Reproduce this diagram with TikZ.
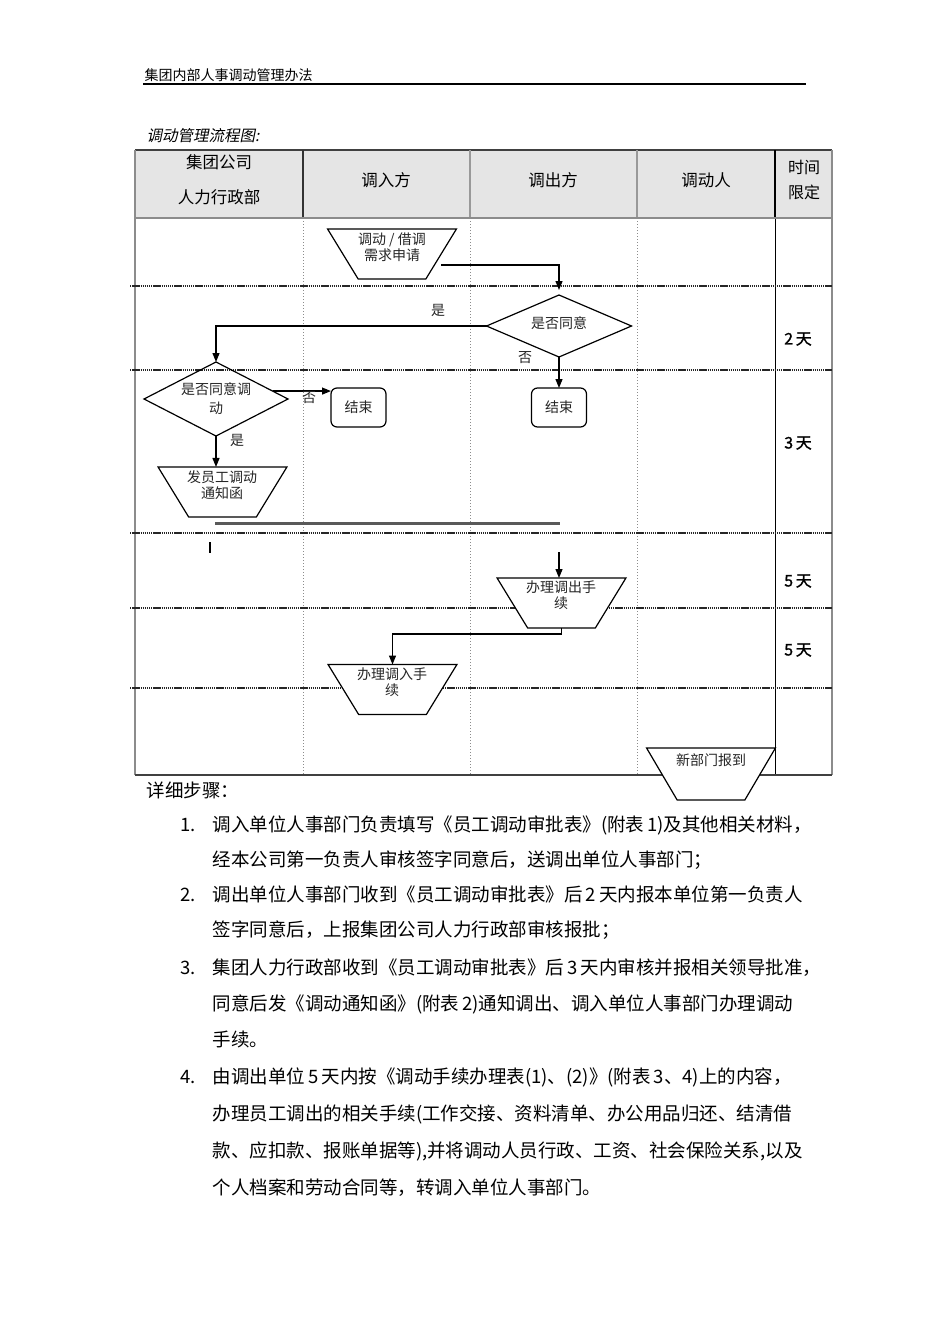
\documentclass[tikz,border=0pt]{standalone}
\usepackage{fontspec}
\setmainfont{Noto Sans CJK SC}
\newfontfamily\itfont[FakeSlant=0.2]{Noto Sans CJK SC}
\newfontfamily\bffont[FakeBold=1.2]{Noto Sans CJK SC}
\usetikzlibrary{shapes.geometric,arrows.meta,positioning}

\begin{document}
\begin{tikzpicture}[x=0.5pt,y=-0.5pt,line width=0.6pt,
   trap/.style={draw,fill=white,trapezium,trapezium stretches=true,shape border rotate=180,
      trapezium left angle=63.4,trapezium right angle=63.4,
      minimum width=64.5pt,minimum height=25pt,inner sep=0pt,outer sep=0pt},
   ask/.style={draw,diamond,aspect=2,inner sep=0pt,outer sep=0pt,align=center,
      font=\fontsize{7}{9.5}\selectfont,text=black!85},
   stop/.style={draw,rounded corners=3pt,minimum width=27.5pt,minimum height=19.5pt,
      inner sep=0pt,outer sep=0pt,font=\fontsize{7}{8}\selectfont,text=black!85},
   txt/.style={inner sep=0pt,align=center,font=\fontsize{7}{8}\selectfont,text=black!85},
   arr/.style={-{Triangle[length=4.5pt,width=3.5pt]}},
   rowline/.style={black!85,line width=0.9pt,dash pattern=on 0.7pt off 0.35pt},
   colline/.style={black!45,line width=0.45pt,dash pattern=on 0.6pt off 0.9pt},
   head/.style={inner sep=0pt,align=center,font=\fontsize{8.25}{17.5}\selectfont},
   days/.style={inner sep=0pt,font=\bffont\fontsize{8}{8}\selectfont},
   steptext/.style={anchor=base west,inner sep=0pt,font=\fontsize{9.25}{10}\selectfont}]
  \fill[white] (0,0) rectangle (950,1344);
  \useasboundingbox (0,0) rectangle (950,1344);

      \node[anchor=west,inner sep=0pt,font=\fontsize{7}{7}\selectfont] (doctitle) at (144,75) {集团内部人事调动管理办法};
  \draw (143,84) -- (806,84);
      \node[anchor=west,inner sep=0pt,font=\itfont\fontsize{7.75}{8}\selectfont] (charttitle) at (146,136) {调动管理流程图:};

  \fill[black!10] (135,150) rectangle (832,218);
  \draw[black!75] (135,150) -- (832,150);
  \foreach \x/\c in {303/black!80,470/black!40,637/black!40,775/black}
     \draw[\c] (\x,150) -- (\x,218);
  \foreach \x in {303,470,637}
     \draw[colline] (\x,218) -- (\x,775);
  \draw[line width=0.5pt] (775,218) -- (775,775);
  \draw[black!45,line width=1pt] (135,218) -- (832,218);
  \draw[black!45,line width=1pt] (135,150) -- (135,775) (832,150) -- (832,775);
  \foreach \y in {286,370,533,608,688}
     \draw[rowline] (130,\y) -- (832,\y);
  \draw[black!75] (135,775) -- (832,775);

       \node[head] (hq) at (219,180) {集团公司\\人力行政部};
         \node[head] (inside) at (386,180) {调入方};
           \node[head] (outside) at (553,180) {调出方};
             \node[head] (mover) at (706,180) {调动人};
               \node[head,font=\fontsize{8}{12.5}\selectfont] (limit) at (804,180) {时间\\限定};

  \node[trap] (apply) at (392,254) {\phantom{M}};
    \node[txt] (applylbl) at (392,247) {调动 / 借调\\需求申请};
  \node[ask,minimum width=72.5pt,minimum height=31pt] (agree1) at (559,326) {\raisebox{3pt}{是否同意}};
  \node[ask,minimum width=72pt,minimum height=37pt] (agree2) at (216,399) {是否同意调\\动};
  \node[stop] (end1) at (358.5,407.5) {结束};
  \node[stop] (end2) at (559,407.5) {结束};
  \node[trap] (notice) at (222.5,492) {\phantom{M}};
    \node[txt] (noticelbl) at (222,485) {发员工调动\\通知函};
  \node[trap] (out) at (561.5,603) {\phantom{M}};
    \node[txt] (outlbl) at (561,595) {办理调出手\\续};
  \node[trap] (in) at (392.5,689.5) {\phantom{M}};
    \node[txt] (inlbl) at (392,682) {办理调入手\\续};
  \node[trap,minimum height=26pt] (report) at (711,774) {\phantom{M}};
    \node[txt] (reportlbl) at (711,760) {新部门报到};

  \draw[arr,shorten >=2.5pt] ([yshift=-5.5pt]apply.east) -| (agree1.north);
  \draw[arr] (agree1.west) -| (agree2.north);
  \draw[arr] (agree1.south) -- (end2.north);
  \draw[arr] (agree2.8) -- (agree2.8 -| end1.west);
  \draw[arr] (agree2.south) -- (agree2.south |- notice.north);
  \node[txt] (yes1) at (438,310) {是};
  \node[txt] (no1) at (525,358) {否};
  \node[txt] (no2) at (309,398) {否};
  \node[txt] (yes2) at (237,440) {是};

  \coordinate (G1) at (215,523);
  \coordinate (G2) at (560,523);
  \draw[black!65,line width=1.5pt] (G1) -- (G2);
  \coordinate (T1) at (210,542);
  \coordinate (T2) at (210,553);
  \draw (T1) -- (T2);
  \coordinate (S) at (559,552);
  \draw[arr] (S) -- (S |- out.north);
  \draw[arr] (out.south) -- ++(0,6) -| (in.north);

               \node[days] (d1) at (798,339) {2\,天};
             \node[days] (d2) at (798,443) {3\,天};
           \node[days] (d3) at (798,581) {5\,天};
         \node[days] (d4) at (798,650) {5\,天};

  \node[anchor=west,inner sep=0pt,font=\fontsize{9.25}{10}\selectfont] (detail) at (146,790) {详细步骤：};
  \foreach \i/\y in {1/831,2/901,3/974,4/1083}
     \node[steptext] (num\i) at (180,\y) {\i.};
  \foreach \y/\t [count=\k] in {
      831/{调入单位人事部门负责填写《员工调动审批表》(附表\,1)及其他相关材料，},
      866/{经本公司第一负责人审核签字同意后，送调出单位人事部门；},
      901/{调出单位人事部门收到《员工调动审批表》后\,2\,天内报本单位第一负责人},
      936/{签字同意后，上报集团公司人力行政部审核报批；},
      974/{集团人力行政部收到《员工调动审批表》后\,3\,天内审核并报相关领导批准，},
      1010/{同意后发《调动通知函》(附表\,2)通知调出、调入单位人事部门办理调动},
      1046/{手续。},
      1083/{由调出单位\,5\,天内按《调动手续办理表(1)、(2)》(附表\,3、4)上的内容，},
      1120/{办理员工调出的相关手续(工作交接、资料清单、办公用品归还、结清借},
      1157/{款、应扣款、报账单据等),并将调动人员行政、工资、社会保险关系,以及},
      1194/{个人档案和劳动合同等，转调入单位人事部门。}}
     \node[steptext] (line\k) at (212,\y) {\t};
\end{tikzpicture}
\end{document}
